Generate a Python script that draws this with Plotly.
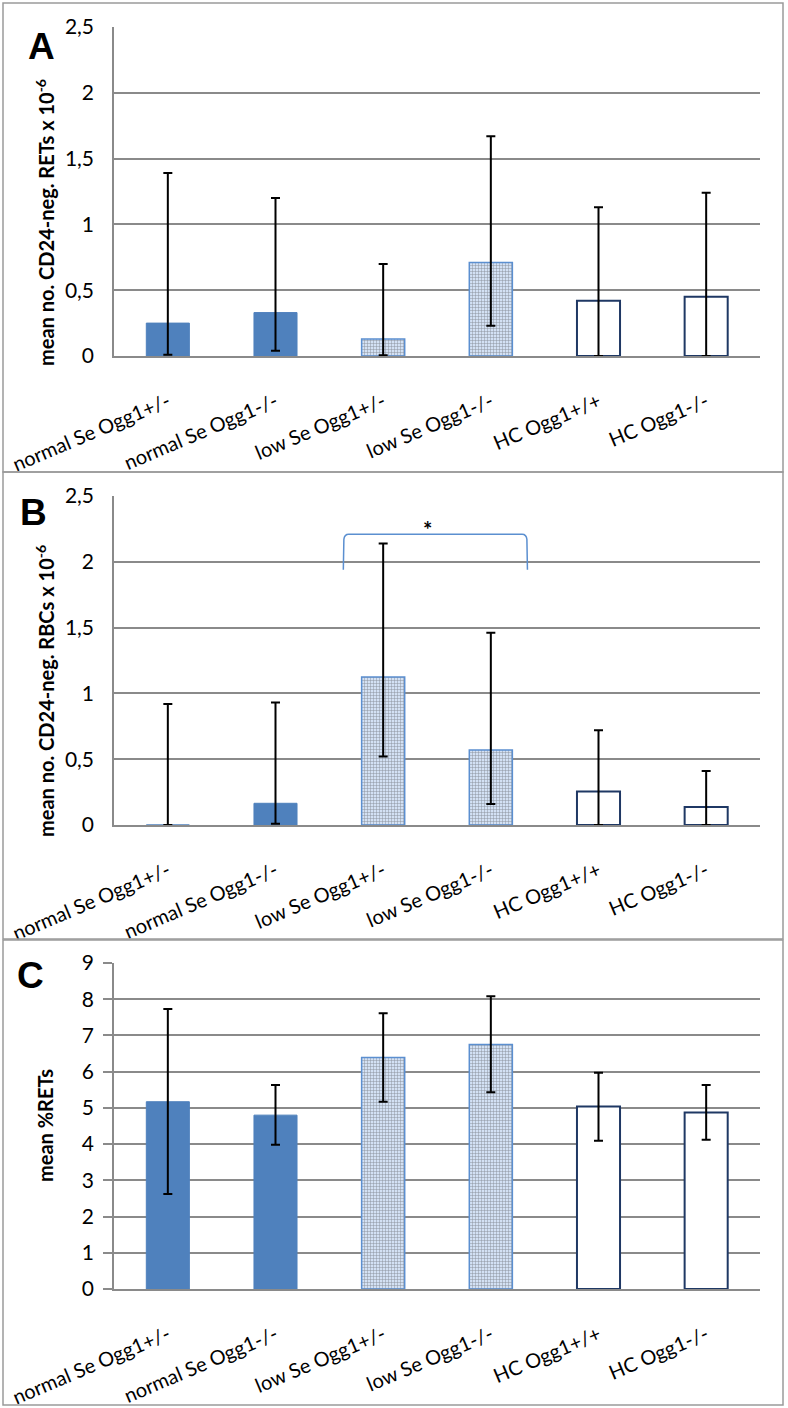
import plotly.graph_objects as go

W, H = 788, 1408

categories = ["normal Se Ogg1+/-", "normal Se Ogg1-/-", "low Se Ogg1+/-",
              "low Se Ogg1-/-", "HC Ogg1+/+", "HC Ogg1-/-"]

# A: CD24-neg. RETs x 10^-6
rets_mean = [0.25, 0.33, 0.13, 0.71, 0.42, 0.45]
rets_hi = [1.39, 1.20, 0.70, 1.67, 1.13, 1.24]
rets_lo = [0.01, 0.04, 0.005, 0.23, 0.0, 0.0]

# B: CD24-neg. RBCs x 10^-6
rbcs_mean = [0.0, 0.165, 1.125, 0.57, 0.255, 0.137]
rbcs_hi = [0.92, 0.93, 2.14, 1.46, 0.72, 0.41]
rbcs_lo = [0.0, 0.01, 0.52, 0.16, 0.0, 0.0]

# C: %RETs
pct_mean = [5.17, 4.80, 6.39, 6.75, 5.04, 4.87]
pct_hi = [7.73, 5.63, 7.61, 8.08, 5.97, 5.63]
pct_lo = [2.62, 3.98, 5.17, 5.43, 4.09, 4.12]

# significance bracket in B (between low Se groups)
sig_pair = (2, 3)
sig_level = 2.21

FONT = "Lato"
GRID = "#8a8a8a"
BLUE = "#4F81BD"

fill = [BLUE, BLUE, "#D3E1F4", "#D3E1F4", "white", "white"]
edge = [BLUE, BLUE, "#5B8FD0", "#5B8FD0", "#1F3864", "#1F3864"]
edge_w = [1, 1, 1.5, 1.5, 2, 2]
patt = ["", "", "+", "+", "", ""]


def px(x):
    return x / W


def py(y):
    return 1 - y / H


panels = [
    dict(mean=rets_mean, hi=rets_hi, lo=rets_lo, top=27, bot=356, rng=2.5, dt=0.5, ticks="",
         title="<b>mean no. CD24-neg. RETs x 10<sup>-6</sup></b>", tcy=223, letter="A", lx=41, ly=47),
    dict(mean=rbcs_mean, hi=rbcs_hi, lo=rbcs_lo, top=496, bot=825, rng=2.5, dt=0.5, ticks="",
         title="<b>mean no. CD24-neg. RBCs x 10<sup>-6</sup></b>", tcy=691, letter="B", lx=33, ly=512),
    dict(mean=pct_mean, hi=pct_hi, lo=pct_lo, top=963, bot=1289, rng=9, dt=1, ticks="outside",
         title="<b>mean %RETs</b>", tcy=1126, letter="C", lx=30, ly=975),
]

fig = go.Figure()
shapes = []
annotations = []
xs = list(range(len(categories)))

for i, p in enumerate(panels):
    n = "" if i == 0 else str(i + 1)
    plus = [h - m for h, m in zip(p["hi"], p["mean"])]
    minus = [m - l for m, l in zip(p["mean"], p["lo"])]
    fig.add_trace(go.Bar(
        x=xs, y=p["mean"], width=0.4, xaxis="x" + n, yaxis="y" + n,
        marker=dict(color=fill, line=dict(color=edge, width=edge_w),
                    pattern=dict(shape=patt, fgcolor="#6C9BDC", bgcolor="#EEF4FC",
                                 size=3, solidity=0.3)),
        error_y=dict(type="data", symmetric=False, array=plus, arrayminus=minus,
                     color="black", thickness=2, width=4.5),
        showlegend=False,
    ))
    fig.update_layout(**{
        "xaxis" + n: dict(domain=[px(114), px(760)], anchor="y" + n, range=[-0.5, 5.5],
                          tickvals=xs, ticktext=categories, tickangle=-23, showgrid=False,
                          showline=True, linecolor=GRID, linewidth=1.5, ticks="",
                          tickfont=dict(size=20, color="black"), zeroline=False,
                          automargin=False, ticklabelstandoff=25),
        "yaxis" + n: dict(domain=[py(p["bot"]), py(p["top"])], anchor="x" + n, range=[0, p["rng"]],
                          dtick=p["dt"], showgrid=True, gridcolor=GRID, gridwidth=1.5,
                          showline=True, linecolor=GRID, linewidth=1.5, zeroline=False,
                          ticks=p["ticks"], ticklen=9, tickcolor=GRID, tickwidth=1.5,
                          ticklabelstandoff=14 if p["ticks"] == "" else 5,
                          tickfont=dict(size=21, color="black"), automargin=False),
    })
    annotations.append(dict(text=p["title"], x=px(45), y=py(p["tcy"]), xref="paper", yref="paper",
                            textangle=-90, showarrow=False, font=dict(size=20, color="black"),
                            xanchor="center", yanchor="middle"))
    annotations.append(dict(text="<b>" + p["letter"] + "</b>", x=px(p["lx"]), y=py(p["ly"]),
                            xref="paper", yref="paper", showarrow=False,
                            font=dict(size=37, color="black", family="Arial"),
                            xanchor="center", yanchor="middle"))

# panel borders
for y0, y1 in [(3, 472), (472, 939), (940, 1405)]:
    shapes.append(dict(type="rect", xref="paper", yref="paper", x0=px(3), x1=px(783),
                       y0=py(y1), y1=py(y0), line=dict(color="#9a9a9a", width=1.5)))

# bracket + star for panel B
a, b = sig_pair[0] - 0.37, sig_pair[1] + 0.34
lo = sig_level - 0.27
r_x, r_y = 0.05, 0.04
path = (f"M {a},{lo} L {a + 0.005},{sig_level - r_y} Q {a + 0.01},{sig_level} {a + r_x},{sig_level} "
        f"L {b - r_x},{sig_level} Q {b - 0.01},{sig_level} {b - 0.005},{sig_level - r_y} L {b},{lo}")
shapes.append(dict(type="path", path=path, xref="x2", yref="y2",
                   line=dict(color="#5B8FD0", width=1.5)))
annotations.append(dict(text="<b>*</b>", x=(sig_pair[0] + sig_pair[1]) / 2 - 0.09, y=sig_level - 0.08,
                        xref="x2", yref="y2", showarrow=False, yanchor="bottom",
                        font=dict(size=22, color="black")))

fig.update_layout(
    width=W, height=H, margin=dict(l=0, r=0, t=0, b=0, autoexpand=False),
    paper_bgcolor="white", plot_bgcolor="white",
    font=dict(family=FONT, color="black"),
    separators=",.",
    shapes=shapes, annotations=annotations,
)

fig.write_html("out.html", config={"displayModeBar": False},
               post_script="document.body.style.margin='0';")
